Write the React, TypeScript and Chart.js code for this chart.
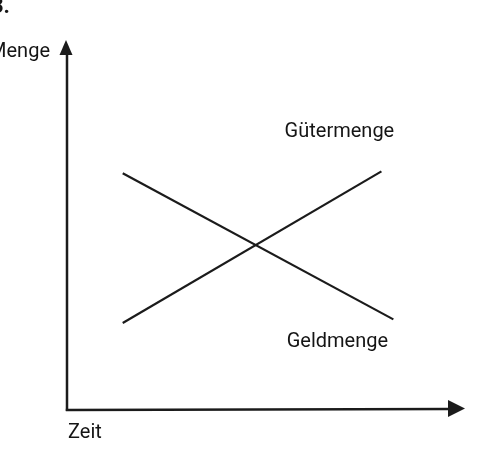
import React, { useEffect, useRef } from "react";
import { Chart, registerables } from "chart.js";

Chart.register(...registerables);

// ---- data (abstract units: time 0..10, quantity 0..10) ----
const xAxisTitle = "Zeit";
const yAxisTitle = "Menge";
const figureNumber = "3.";
const seriesNames = ["Gütermenge", "Geldmenge"];
const gueterTime = [1.4, 7.9];
const gueterAmount = [2.35, 6.45];
const geldTime = [1.4, 8.2];
const geldAmount = [6.4, 2.45];
const xRange = [0, 10];
const yRange = [0, 10];

const INK = "#1b1b1b";
const FONT = "Roboto, 'Noto Sans', sans-serif";

const toPoints = (xs: number[], ys: number[]) => xs.map((x, i) => ({ x, y: ys[i] }));

const diagramPlugin = {
  id: "diagram",
  afterDraw(chart: any) {
    const { ctx, scales } = chart;
    const xs = scales.x;
    const ys = scales.y;
    const ox = xs.getPixelForValue(xRange[0]);
    const oy = ys.getPixelForValue(yRange[0]);
    const xEnd = xs.getPixelForValue(xRange[1]);
    const yEnd = ys.getPixelForValue(yRange[1]);
    ctx.save();
    ctx.strokeStyle = INK;
    ctx.fillStyle = INK;
    ctx.lineWidth = 2.5;
    ctx.lineCap = "butt";
    // y axis
    ctx.beginPath();
    ctx.moveTo(ox, oy + 1);
    ctx.lineTo(ox, yEnd + 12);
    ctx.stroke();
    // y arrow head
    ctx.beginPath();
    ctx.moveTo(ox - 1, yEnd);
    ctx.lineTo(ox - 7.5, yEnd + 15);
    ctx.lineTo(ox + 5.5, yEnd + 15);
    ctx.closePath();
    ctx.fill();
    // x axis
    ctx.beginPath();
    ctx.moveTo(ox - 1.2, oy);
    ctx.lineTo(xEnd - 14, oy - 1);
    ctx.stroke();
    // x arrow head
    ctx.beginPath();
    ctx.moveTo(xEnd, oy - 1.5);
    ctx.lineTo(xEnd - 17, oy - 10);
    ctx.lineTo(xEnd - 17, oy + 7);
    ctx.closePath();
    ctx.fill();

    // texts
    ctx.fillStyle = "#151515";
    ctx.textBaseline = "middle";
    ctx.font = `20px ${FONT}`;
    ctx.textAlign = "left";
    ctx.fillText(xAxisTitle, ox + 1, oy + 23);
    ctx.textAlign = "right";
    ctx.fillText(yAxisTitle, ox - 17, yEnd + 12);
    // series labels, placed relative to the line ends
    const gEndX = xs.getPixelForValue(gueterTime[1]);
    const gEndY = ys.getPixelForValue(gueterAmount[1]);
    const mEndX = xs.getPixelForValue(geldTime[1]);
    const mEndY = ys.getPixelForValue(geldAmount[1]);
    ctx.textAlign = "center";
    ctx.fillText(seriesNames[0], gEndX - 42, gEndY - 39);
    ctx.fillText(seriesNames[1], mEndX - 56, mEndY + 23);
    // figure number (cut at the page edge)
    ctx.font = `bold 22px ${FONT}`;
    ctx.textAlign = "left";
    ctx.textBaseline = "alphabetic";
    ctx.fillText(figureNumber, -9, 13);
    ctx.restore();
  },
};

export default function App() {
  const ref = useRef<HTMLCanvasElement | null>(null);
  useEffect(() => {
    if (!ref.current) return;
    const chart = new Chart(ref.current, {
      type: "line",
      data: {
        datasets: [
          {
            label: seriesNames[0],
            data: toPoints(gueterTime, gueterAmount),
            borderColor: INK,
            borderWidth: 2.2,
            pointRadius: 0,
            tension: 0,
            fill: false,
          },
          {
            label: seriesNames[1],
            data: toPoints(geldTime, geldAmount),
            borderColor: INK,
            borderWidth: 2.2,
            pointRadius: 0,
            tension: 0,
            fill: false,
          },
        ],
      },
      options: {
        animation: false,
        responsive: false,
        devicePixelRatio: 1,
        layout: { padding: { left: 67, right: 13, top: 40, bottom: 52 } },
        plugins: {
          legend: { display: false },
          tooltip: { enabled: false },
          title: { display: false },
        },
        scales: {
          x: { type: "linear", min: xRange[0], max: xRange[1], display: false },
          y: { type: "linear", min: yRange[0], max: yRange[1], display: false },
        },
      },
      plugins: [diagramPlugin],
    });
    return () => chart.destroy();
  }, []);
  return (
    <div style={{ position: "fixed", left: 0, top: 0, width: 478, height: 462, background: "#fff" }}>
      <canvas ref={ref} width={478} height={462} style={{ display: "block" }} />
    </div>
  );
}
